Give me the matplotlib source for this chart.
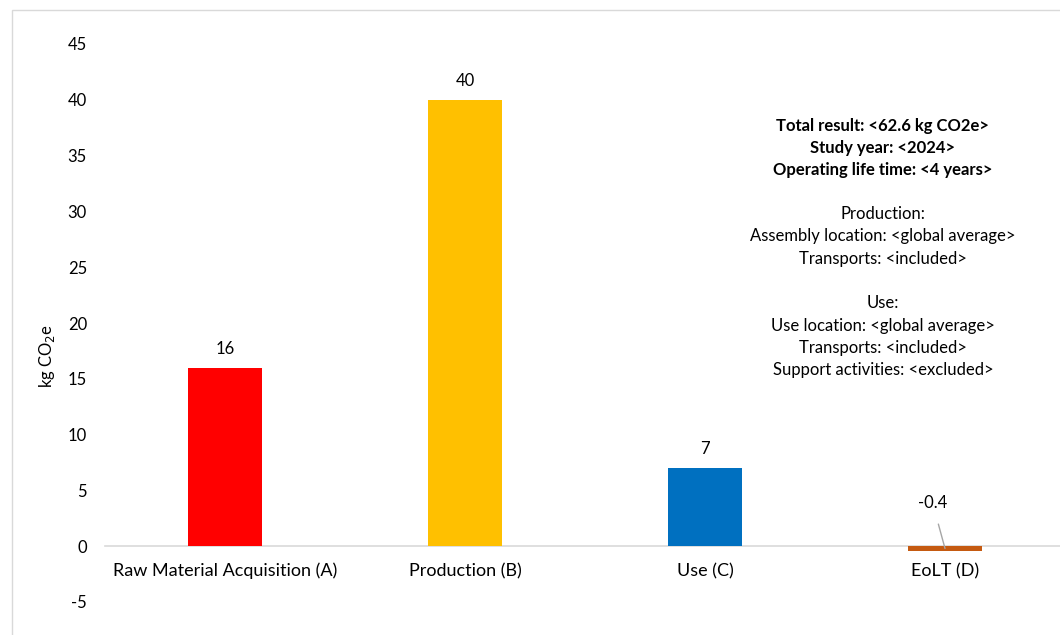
import matplotlib.pyplot as plt
from matplotlib.patches import Rectangle

plt.rcParams['font.family'] = ['Lato', 'DejaVu Sans']

stages = ['Raw Material Acquisition (A)', 'Production (B)', 'Use (C)', 'EoLT (D)']
values = [16, 40, 7, -0.4]
value_labels = ['16', '40', '7', '-0.4']
colors = ['#FF0000', '#FFC000', '#0070C0', '#C55A11']
y_ticks = [-5, 0, 5, 10, 15, 20, 25, 30, 35, 40, 45]

info_bold = ['Total result: <62.6 kg CO2e>', 'Study year: <2024>', 'Operating life time: <4 years>']
info_plain = ['Production:', 'Assembly location: <global average>', 'Transports: <included>', '',
              'Use:', 'Use location: <global average>', 'Transports: <included>',
              'Support activities: <excluded>']

fig = plt.figure(figsize=(10.6, 6.35), dpi=100)
fig.patches.append(Rectangle((12 / 1060, -0.1), 1.2, (635 - 10) / 635 + 0.1,
                             transform=fig.transFigure, fill=False,
                             edgecolor='#d9d9d9', linewidth=1))
ax = fig.add_axes([105 / 1060, 33 / 635, 960 / 1060, 558 / 635])

x = range(len(stages))
ax.bar(x, values, width=0.31, color=colors, zorder=3)

# horizontal axis sits at zero
for s in ['top', 'right', 'left']:
    ax.spines[s].set_visible(False)
ax.spines['bottom'].set_position(('data', 0))
ax.spines['bottom'].set_color('#d9d9d9')
ax.spines['bottom'].set_linewidth(1.2)
ax.spines['bottom'].set_zorder(2)

ax.set_xlim(-0.5, 3.5)
ax.set_ylim(-5, 45)
ax.set_yticks(y_ticks)
ax.set_yticklabels([str(t) for t in y_ticks], fontsize=12)
ax.set_xticks(list(x))
ax.set_xticklabels(stages, fontsize=13)
ax.tick_params(axis='both', length=0)
ax.tick_params(axis='x', pad=12)
ax.tick_params(axis='y', pad=13)

ax.set_ylabel('kg CO$_2$e', fontsize=12)
ax.yaxis.set_label_coords(-0.05, 0.44)

# data labels
for i, (v, lab) in enumerate(zip(values, value_labels)):
    if v >= 0:
        ax.annotate(lab, (i, v), xytext=(0, 8), textcoords='offset points',
                    ha='center', va='bottom', fontsize=12)
ax.annotate(value_labels[3], xy=(3, values[3] / 2), xytext=(-9, 33),
            textcoords='offset points', ha='center', va='center', fontsize=12,
            arrowprops=dict(arrowstyle='-', color='#a6a6a6', lw=1,
                            shrinkA=8, shrinkB=0))

# info text block
y0 = 126
for j, line in enumerate(info_bold):
    fig.text(883 / 1060, 1 - (y0 + 21.8 * j) / 635, line, ha='center', va='center',
             fontsize=12, fontweight='bold')
for j, line in enumerate(info_plain):
    fig.text(883 / 1060, 1 - (214 + 22.3 * j) / 635, line, ha='center', va='center',
             fontsize=12)

fig.savefig('out.png', dpi=100)
